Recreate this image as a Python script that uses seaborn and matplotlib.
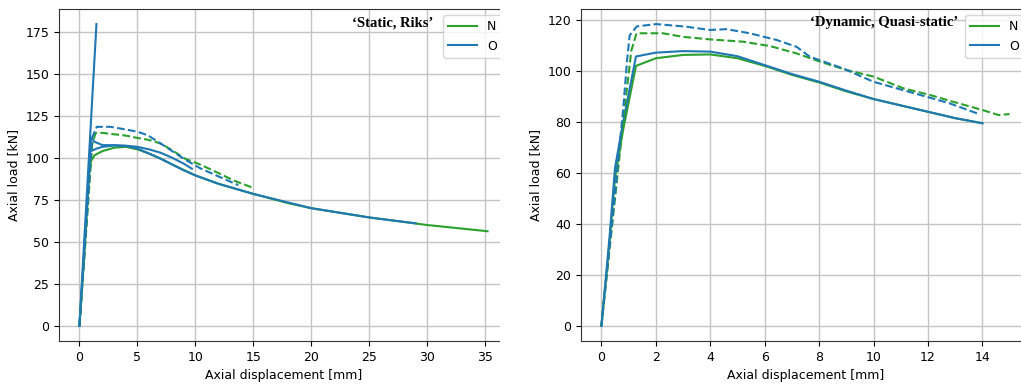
import matplotlib
matplotlib.use('Agg')
import matplotlib.pyplot as plt
import seaborn as sns
from matplotlib.patches import Rectangle

# 'Static, Riks' panel
riks_spike_x = [0, 1.47]
riks_spike_y = [0, 179.5]

riks_n_x = [0, 0.3, 0.6, 0.85, 1.0, 1.3, 2, 3, 4, 5, 6, 7, 8, 10, 12, 15, 18, 20, 25, 30, 35.2]
riks_n_y = [0, 30, 62, 90, 98, 101.5, 104, 106, 106.5, 105, 102.5, 99.5, 96, 89.5, 84.5, 78.5, 73, 70, 64.5, 60, 56.3]

riks_o_x = [0, 0.3, 0.6, 0.9, 1.0, 1.3, 2, 3, 4, 5, 6, 7, 8, 9, 10, 12, 15, 20, 25, 29]
riks_o_y = [0, 32, 66, 100, 112, 109.5, 107.5, 107.5, 107, 105.5, 102.5, 99.5, 96, 92.5, 89.5, 84.5, 78.5, 70, 64.5, 61]

riks_o2_x = [1.0, 1.5, 2, 3, 4, 5, 6, 7, 8, 9, 9.7]
riks_o2_y = [104, 105.5, 106.5, 107.3, 107.2, 106.5, 105, 103, 100, 96.5, 93.5]

riks_n_dash_x = [0, 0.5, 0.9, 1.1, 1.4, 2, 2.7, 4, 5, 6, 7, 8, 9.1, 10.4, 11.9, 13.3, 14.9]
riks_n_dash_y = [0, 48, 88, 108, 114.8, 114.8, 114.2, 113.2, 111.8, 110.6, 108.5, 104.5, 99.5, 96, 91.2, 86.5, 82.3]

riks_o_dash_x = [0, 0.5, 0.9, 1.1, 1.5, 2.7, 4, 5, 5.9, 7, 8.1, 9.1, 10.4, 11.9, 13.7]
riks_o_dash_y = [0, 50, 92, 112, 118.4, 118.4, 116.8, 115.5, 113.4, 108.5, 103.5, 99, 93.8, 89.2, 83.7]

# 'Dynamic, Quasi-static' panel
dyn_x = [0, 0.3, 0.5, 0.8, 1.27, 2, 3, 4, 5, 6, 7, 8, 9, 10, 11, 12, 13, 14]
dyn_n_y = [0, 33, 58, 77, 102, 105, 106.3, 106.5, 105, 102, 98.5, 95.5, 92, 89, 86.5, 84, 81.5, 79.5]
dyn_o_y = [0, 35, 62, 80, 105.7, 107.2, 107.8, 107.6, 105.8, 102.3, 98.8, 95.8, 92.3, 89, 86.5, 84, 81.5, 79.5]

dyn_n_dash_x = [0, 0.5, 0.85, 1.1, 1.29, 2.26, 3.0, 3.98, 5.2, 6.19, 7.17, 8.03, 9.0, 10.0, 11.1, 12.07, 12.9, 14.0, 14.6, 15.0]
dyn_n_dash_y = [0, 50, 85, 108, 114.8, 114.8, 113.4, 112.4, 111.5, 109.8, 106.9, 103.7, 100.4, 97.8, 93.2, 90.6, 88, 84.7, 82.7, 83.1]

dyn_o_dash_x = [0, 0.5, 0.8, 0.95, 1.04, 1.3, 2.02, 3.1, 3.98, 4.6, 5.45, 6.43, 7.17, 7.66, 8.88, 9.99, 10.85, 11.95, 12.8, 13.8]
dyn_o_dash_y = [0, 52, 85, 105, 114, 117.5, 118.4, 117.4, 116.1, 116.4, 114.8, 112.2, 109.5, 105.6, 101, 95.8, 93.2, 89.9, 87.3, 83.4]

green = '#2ca02c'
blue = '#1f77b4'

plt.rcParams['font.family'] = ['DejaVu Sans']
fig = plt.figure(figsize=(10.21, 3.85), dpi=100)
ax1 = fig.add_axes([59 / 1021, 44 / 385, 449 / 1021, 332 / 385])
ax2 = fig.add_axes([581 / 1021, 44 / 385, 449 / 1021, 332 / 385])


def line(ax, x, y, color, dashed=False, label=None):
    sns.lineplot(x=x, y=y, ax=ax, color=color, sort=False, estimator=None,
                 linestyle='--' if dashed else '-', linewidth=1.5, label=label)


# left: static Riks
line(ax1, riks_n_x, riks_n_y, green, label='N')
line(ax1, riks_o_x, riks_o_y, blue, label='O')
line(ax1, riks_o2_x, riks_o2_y, blue)
line(ax1, riks_spike_x, riks_spike_y, blue)
line(ax1, riks_n_dash_x, riks_n_dash_y, green, dashed=True)
line(ax1, riks_o_dash_x, riks_o_dash_y, blue, dashed=True)

# right: dynamic quasi-static
line(ax2, dyn_x, dyn_n_y, green, label='N')
line(ax2, dyn_x, dyn_o_y, blue, label='O')
line(ax2, dyn_n_dash_x, dyn_n_dash_y, green, dashed=True)
line(ax2, dyn_o_dash_x, dyn_o_dash_y, blue, dashed=True)

ax1.set_xticks([0, 5, 10, 15, 20, 25, 30, 35])
ax1.set_yticks([0, 25, 50, 75, 100, 125, 150, 175])
ax2.set_xticks([0, 2, 4, 6, 8, 10, 12, 14])
ax2.set_yticks([0, 20, 40, 60, 80, 100, 120])

for ax, title, tx in [(ax1, '\u2018Static, Riks\u2019', 0.833),
                      (ax2, '\u2018Dynamic, Quasi-static\u2019', 0.840)]:
    ax.grid(True, color='#c4c4c4', linewidth=1.0)
    ax.set_axisbelow(True)
    ax.set_xlabel('Axial displacement [mm]', fontsize=9)
    ax.set_ylabel('Axial load [kN]', fontsize=9)
    ax.tick_params(labelsize=9)
    for s in ax.spines.values():
        s.set_color('#333333')
    ax.legend(loc='upper right', fontsize=9, handlelength=2.3)
    ax.text(tx, 0.958, title, transform=ax.transAxes, ha='right', va='center',
            fontsize=10.5, fontweight='bold', family=['Liberation Serif', 'DejaVu Serif'])

# the two panels are cropped screenshots; blank the gap between them
fig.add_artist(Rectangle((500 / 1021, 0), 10 / 1021, 1, transform=fig.transFigure,
                         facecolor='white', edgecolor='none', zorder=10))

fig.savefig('out.png', dpi=100)
